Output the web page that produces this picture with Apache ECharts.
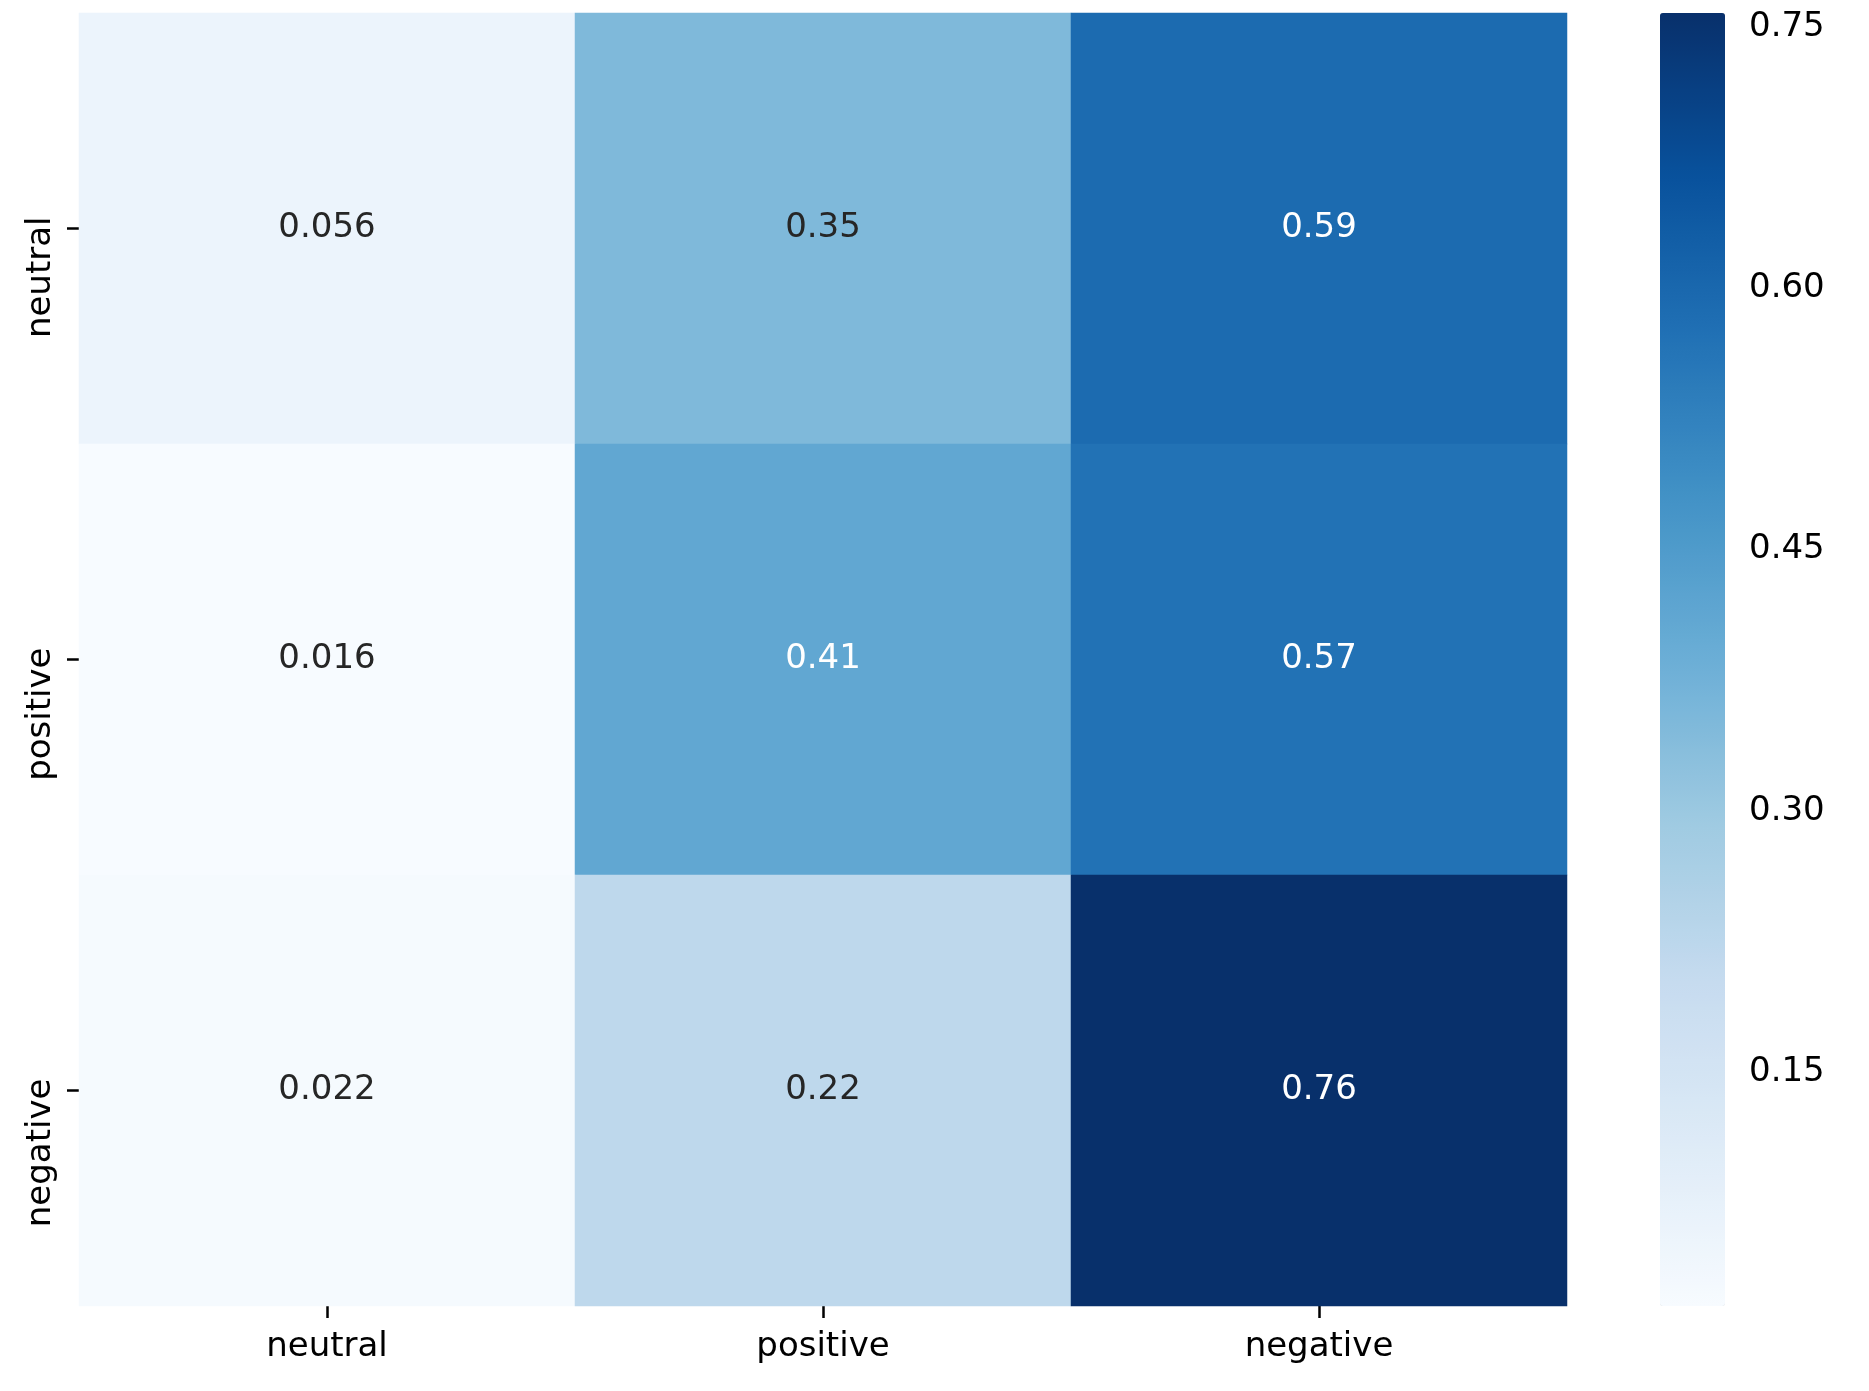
<!DOCTYPE html>
<html>
<head>
<meta charset="utf-8">
<title>Confusion matrix</title>
<script src="https://cdn.jsdelivr.net/npm/echarts@6/dist/echarts.min.js"></script>
<style>
  html, body { margin: 0; padding: 0; background: #fff; }
  #main { width: 1869px; height: 1391px; }
</style>
</head>
<body>
<div id="main"></div>
<script>
// labels, top row first
var colLabels = ['neutral', 'positive', 'negative'];
var rowLabels = ['neutral', 'positive', 'negative'];

// row values (true label), one array per row
var neutralRow = [0.056, 0.35, 0.59];
var positiveRow = [0.0159, 0.41, 0.57];
var negativeRow = [0.022, 0.22, 0.758];

// colour bar range and ticks
var barMin = 0.0159;
var barMax = 0.7579;
var barTicks = [0.15, 0.30, 0.45, 0.60, 0.75];

// matplotlib "Blues"
var blues = ['#f7fbff', '#deebf7', '#c6dbef', '#9ecae1', '#6baed6',
             '#4292c6', '#2171b5', '#08519c', '#08306b'];

var rows = [neutralRow, positiveRow, negativeRow];
var cells = [];
rows.forEach(function (row, r) {
    row.forEach(function (v, c) {
        cells.push({
            value: [c, r, v],
            label: { color: v > 0.38 ? '#ffffff' : '#262626' }
        });
    });
});

var font = 'DejaVu Sans';

var chart = echarts.init(document.getElementById('main'));
chart.setOption({
    backgroundColor: '#ffffff',
    animation: false,
    grid: [
        { left: 79, top: 13, width: 1488, height: 1293 },
        { left: 1660, top: 13, width: 65, height: 1293 }
    ],
    xAxis: [{
        type: 'category',
        gridIndex: 0,
        data: colLabels,
        position: 'bottom',
        axisLine: { show: false },
        axisTick: { show: true, alignWithLabel: true, length: 12, lineStyle: { color: '#000', width: 2.5 } },
        axisLabel: { fontFamily: font, fontSize: 34, color: '#000', margin: 24 },
        splitLine: { show: false }
    }, {
        type: 'value',
        gridIndex: 1,
        show: false,
        min: 0,
        max: 1
    }],
    yAxis: [{
        type: 'category',
        gridIndex: 0,
        data: rowLabels,
        inverse: true,
        axisLine: { show: false },
        axisTick: { show: true, alignWithLabel: true, length: 12, lineStyle: { color: '#000', width: 2.5 } },
        axisLabel: {
            fontFamily: font, fontSize: 34, color: '#000', margin: 38,
            rotate: 90, align: 'right', verticalAlign: 'middle',
            padding: [0, -12, 0, 0]
        },
        splitLine: { show: false }
    }, {
        type: 'value',
        gridIndex: 1,
        position: 'right',
        min: barMin,
        max: barMax,
        axisLine: { show: false },
        splitLine: { show: false },
        axisTick: {
            show: true, length: 12, customValues: barTicks,
            lineStyle: { color: '#000', width: 2.5 }
        },
        axisLabel: {
            customValues: barTicks,
            fontFamily: font, fontSize: 34, color: '#000', margin: 24,
            padding: [5, 0, 0, 0],
            formatter: function (v) { return v.toFixed(2); }
        }
    }],
    visualMap: {
        type: 'continuous',
        seriesIndex: 0,
        min: barMin,
        max: barMax,
        calculable: false,
        orient: 'vertical',
        left: 1660,
        top: 13,
        padding: 0,
        itemWidth: 65,
        itemHeight: 1293,
        text: null,
        showLabel: false,
        inRange: { color: blues }
    },
    series: [{
        type: 'heatmap',
        xAxisIndex: 0,
        yAxisIndex: 0,
        data: cells,
        label: {
            show: true,
            fontFamily: font,
            fontSize: 34,
            formatter: function (p) { return Number(p.value[2].toPrecision(2)).toString(); }
        },
        itemStyle: { borderWidth: 0 },
        emphasis: { disabled: true }
    }]
});
</script>
</body>
</html>
